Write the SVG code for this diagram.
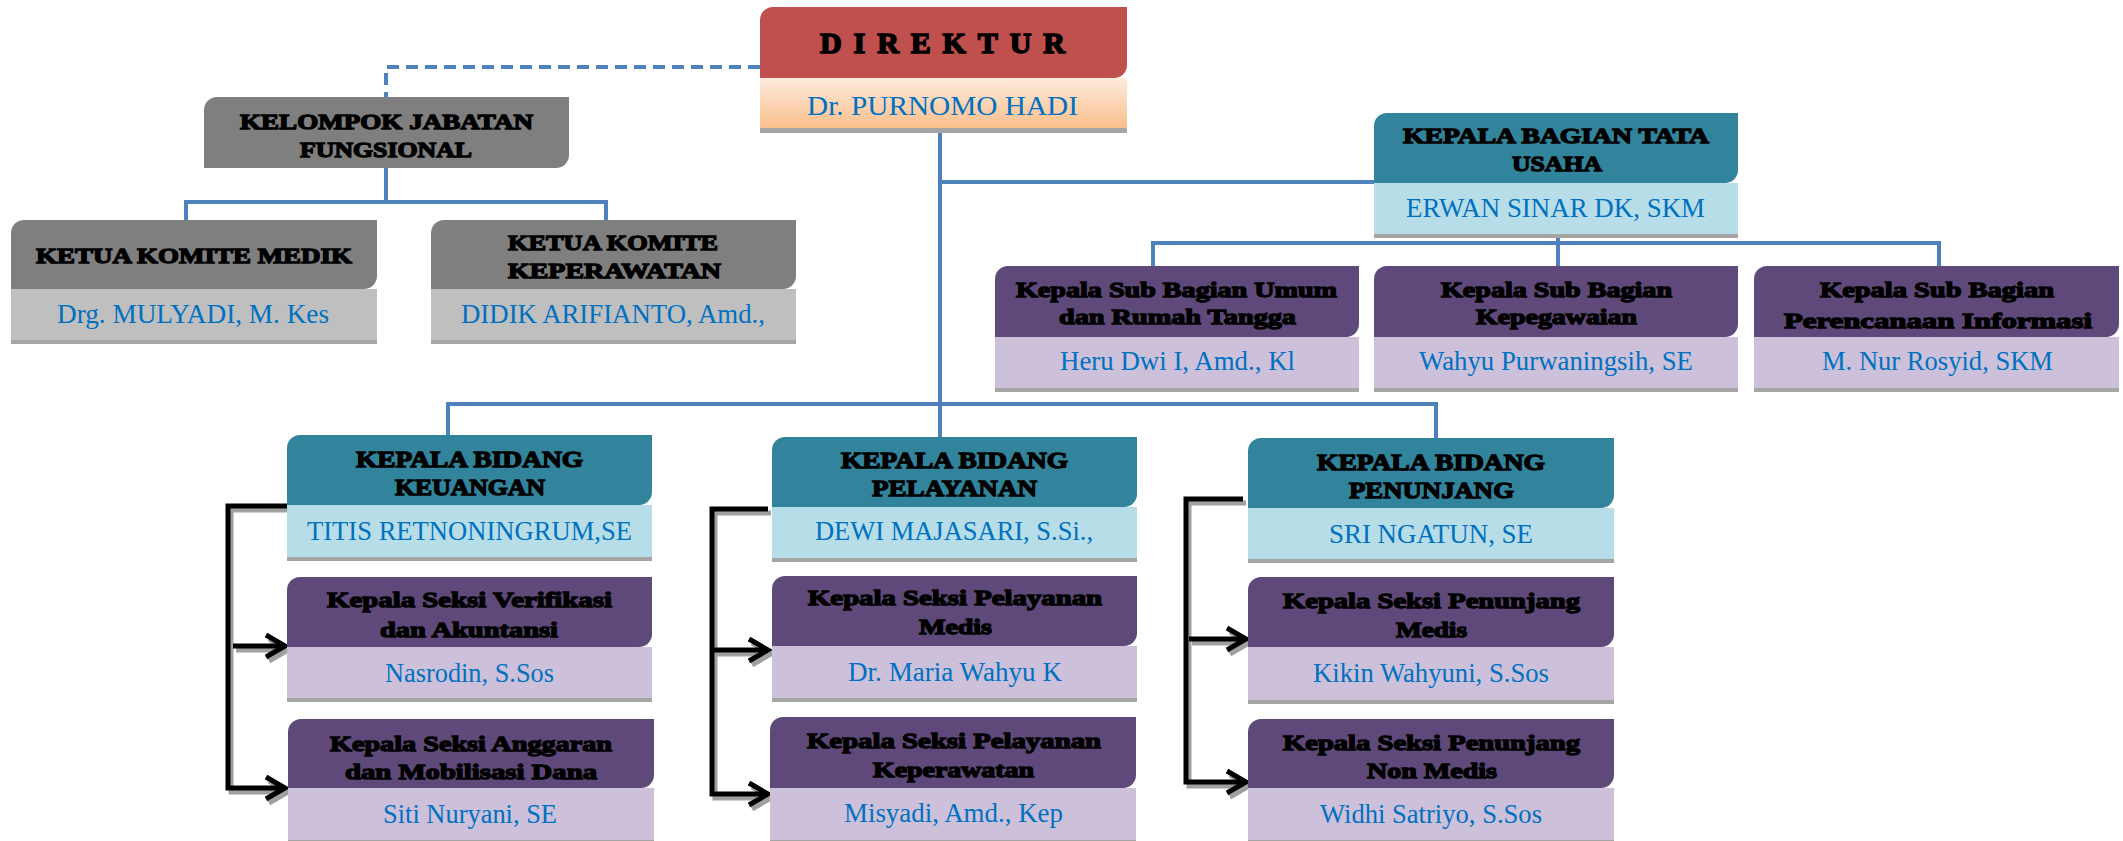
<svg xmlns="http://www.w3.org/2000/svg" width="2123" height="841" viewBox="0 0 2123 841">
<defs>
<linearGradient id="peach" x1="0" y1="0" x2="0" y2="1">
<stop offset="0" stop-color="#FDEBDD"/>
<stop offset="1" stop-color="#FABF8C"/>
</linearGradient>
</defs>
<style>
.t{font-family:"Liberation Serif",serif;font-weight:bold;fill:#000;stroke:#000;stroke-width:1.3px;font-size:22px}
.h{font-size:24px}
.d{font-size:30px;stroke-width:1.6px}
.n{font-family:"Liberation Serif",serif;fill:#0070C0;font-size:27px}
.p{font-size:28px}
.red{fill:#C0504D}.teal{fill:#31849B}.purp{fill:#5F497A}.gray{fill:#7F7F7F}
.lb{fill:#B7DEE8}.lp{fill:#CCC0DA}.lg{fill:#BFBFBF}.sh{fill:#A5A5A5}
.bl{fill:none;stroke:#4F81BD;stroke-width:4}
.bk{fill:none;stroke:#000;stroke-width:5}
.bs{fill:none;stroke:#A0A0A0;stroke-width:5}
</style>
<rect width="2123" height="841" fill="#fff"/>

<g id="connectors">
<path class="bl" d="M760,67 H386 V97" stroke-dasharray="12,7"/>
<path class="bl" d="M386,168 V202 M186,220 V202 H606 V220"/>
<path class="bl" d="M940,133 V437 M940,182 H1374"/>
<path class="bl" d="M448,435 V404 H1436 V438"/>
<path class="bl" d="M1558,234 V266 M1153,266 V243 H1939 V266"/>
<g transform="translate(3,4)">
<path class="bs" d="M287,506 H228 V788 H284 M233,646 H284 M768,509 H712 V794 H768 M714,650 H768 M1243,499 H1186 V782 H1246 M1189,639 H1246"/>
<path class="bs" d="M266,777 L285,788 L266,799 M266,635 L285,646 L266,657 M749,783 L768,794 L749,805 M749,639 L768,650 L749,661 M1227,771 L1246,782 L1227,793 M1227,628 L1246,639 L1227,650"/>
</g>
<path class="bk" d="M287,506 H228 V788 H284 M233,646 H284 M768,509 H712 V794 H768 M714,650 H768 M1243,499 H1186 V782 H1246 M1189,639 H1246"/>
<path class="bk" d="M266,777 L285,788 L266,799 M266,635 L285,646 L266,657 M749,783 L768,794 L749,805 M749,639 L768,650 L749,661 M1227,771 L1246,782 L1227,793 M1227,628 L1246,639 L1227,650"/>
</g>

<g id="direktur">
<path class="red" d="M773,7 H1127 V65 A13,13 0 0 1 1114,78 H760 V20 A13,13 0 0 1 773,7 Z"/>
<rect x="760" y="78" width="367" height="50" fill="url(#peach)"/>
<rect class="sh" x="760" y="128" width="367" height="5"/>
<text class="t d" x="820" y="53" textLength="245">DIREKTUR</text>
<text class="n p" x="807" y="115" textLength="271" lengthAdjust="spacingAndGlyphs">Dr. PURNOMO HADI</text>
</g>

<g id="kelompok">
<path class="gray" d="M217,97 H569 V155 A13,13 0 0 1 556,168 H204 V110 A13,13 0 0 1 217,97 Z"/>
<text class="t" x="240" y="129" textLength="293" lengthAdjust="spacingAndGlyphs">KELOMPOK JABATAN</text>
<text class="t" x="300" y="157" textLength="172" lengthAdjust="spacingAndGlyphs">FUNGSIONAL</text>
</g>

<g id="komite-medik">
<path class="gray" d="M24,220 H377 V276 A13,13 0 0 1 364,289 H11 V233 A13,13 0 0 1 24,220 Z"/>
<rect class="lg" x="11" y="289" width="366" height="51"/>
<rect class="sh" x="11" y="340" width="366" height="4"/>
<text class="t" x="36" y="263" textLength="316" lengthAdjust="spacingAndGlyphs">KETUA KOMITE MEDIK</text>
<text class="n" x="57" y="323" textLength="272" lengthAdjust="spacingAndGlyphs">Drg. MULYADI, M. Kes</text>
</g>

<g id="komite-keperawatan">
<path class="gray" d="M444,220 H796 V276 A13,13 0 0 1 783,289 H431 V233 A13,13 0 0 1 444,220 Z"/>
<rect class="lg" x="431" y="289" width="365" height="51"/>
<rect class="sh" x="431" y="340" width="365" height="4"/>
<text class="t" x="508" y="250" textLength="210" lengthAdjust="spacingAndGlyphs">KETUA KOMITE</text>
<text class="t" x="508" y="278" textLength="213" lengthAdjust="spacingAndGlyphs">KEPERAWATAN</text>
<text class="n" x="461" y="323" textLength="304" lengthAdjust="spacingAndGlyphs">DIDIK ARIFIANTO, Amd.,</text>
</g>

<g id="tata-usaha">
<path class="teal" d="M1387,113 H1738 V170 A13,13 0 0 1 1725,183 H1374 V126 A13,13 0 0 1 1387,113 Z"/>
<rect class="lb" x="1374" y="183" width="364" height="51"/>
<rect class="sh" x="1374" y="234" width="364" height="4"/>
<text class="t" x="1403" y="143" textLength="306" lengthAdjust="spacingAndGlyphs">KEPALA BAGIAN TATA</text>
<text class="t" x="1512" y="171" textLength="90" lengthAdjust="spacingAndGlyphs">USAHA</text>
<text class="n" x="1406" y="217" textLength="299" lengthAdjust="spacingAndGlyphs">ERWAN SINAR DK, SKM</text>
</g>

<g id="subbag-umum">
<path class="purp" d="M1008,266 H1359 V324 A13,13 0 0 1 1346,337 H995 V279 A13,13 0 0 1 1008,266 Z"/>
<text class="t" x="1016" y="297" textLength="321" lengthAdjust="spacingAndGlyphs">Kepala Sub Bagian Umum</text>
<text class="t" x="1059" y="324" textLength="237" lengthAdjust="spacingAndGlyphs">dan Rumah Tangga</text>
<rect class="lp" x="995" y="337" width="364" height="51"/>
<rect class="sh" x="995" y="388" width="364" height="4"/>
<text class="n" x="1060" y="370" textLength="235" lengthAdjust="spacingAndGlyphs">Heru Dwi I, Amd., Kl</text>
</g>

<g id="subbag-kepegawaian">
<path class="purp" d="M1387,266 H1738 V324 A13,13 0 0 1 1725,337 H1374 V279 A13,13 0 0 1 1387,266 Z"/>
<text class="t" x="1441" y="297" textLength="231" lengthAdjust="spacingAndGlyphs">Kepala Sub Bagian</text>
<text class="t" x="1476" y="324" textLength="161" lengthAdjust="spacingAndGlyphs">Kepegawaian</text>
<rect class="lp" x="1374" y="337" width="364" height="51"/>
<rect class="sh" x="1374" y="388" width="364" height="4"/>
<text class="n" x="1419" y="370" textLength="274" lengthAdjust="spacingAndGlyphs">Wahyu Purwaningsih, SE</text>
</g>

<g id="subbag-perencanaan">
<path class="purp" d="M1767,266 H2119 V324 A13,13 0 0 1 2106,337 H1754 V279 A13,13 0 0 1 1767,266 Z"/>
<text class="t" x="1820" y="297" textLength="234" lengthAdjust="spacingAndGlyphs">Kepala Sub Bagian</text>
<text class="t" x="1784" y="328" textLength="308" lengthAdjust="spacingAndGlyphs">Perencanaan  Informasi</text>
<rect class="lp" x="1754" y="337" width="365" height="51"/>
<rect class="sh" x="1754" y="388" width="365" height="4"/>
<text class="n" x="1822" y="370" textLength="231" lengthAdjust="spacingAndGlyphs">M. Nur Rosyid, SKM</text>
</g>

<g id="bidang-keuangan">
<path class="teal" d="M300,435 H652 V492 A13,13 0 0 1 639,505 H287 V448 A13,13 0 0 1 300,435 Z"/>
<rect class="lb" x="287" y="505" width="365" height="52"/>
<rect class="sh" x="287" y="557" width="365" height="4"/>
<text class="t h" x="356" y="467" textLength="227" lengthAdjust="spacingAndGlyphs">KEPALA BIDANG</text>
<text class="t h" x="395" y="495" textLength="150" lengthAdjust="spacingAndGlyphs">KEUANGAN</text>
<text class="n" x="307" y="540" textLength="325" lengthAdjust="spacingAndGlyphs">TITIS RETNONINGRUM,SE</text>
</g>

<g id="seksi-verifikasi">
<path class="purp" d="M300,577 H652 V634 A13,13 0 0 1 639,647 H287 V590 A13,13 0 0 1 300,577 Z"/>
<rect class="lp" x="287" y="647" width="365" height="51"/>
<rect class="sh" x="287" y="698" width="365" height="4"/>
<text class="t" x="327" y="607" textLength="285" lengthAdjust="spacingAndGlyphs">Kepala Seksi Verifikasi</text>
<text class="t" x="380" y="637" textLength="178" lengthAdjust="spacingAndGlyphs">dan Akuntansi</text>
<text class="n" x="385" y="682" textLength="169" lengthAdjust="spacingAndGlyphs">Nasrodin, S.Sos</text>
</g>

<g id="seksi-anggaran">
<path class="purp" d="M301,719 H654 V775 A13,13 0 0 1 641,788 H288 V732 A13,13 0 0 1 301,719 Z"/>
<text class="t" x="330" y="751" textLength="282" lengthAdjust="spacingAndGlyphs">Kepala Seksi Anggaran</text>
<text class="t" x="345" y="779" textLength="252" lengthAdjust="spacingAndGlyphs">dan Mobilisasi Dana</text>
<rect class="lp" x="288" y="788" width="366" height="52"/>
<rect class="sh" x="288" y="840" width="366" height="4"/>
<text class="n" x="383" y="823" textLength="174" lengthAdjust="spacingAndGlyphs">Siti Nuryani, SE</text>
</g>

<g id="bidang-pelayanan">
<path class="teal" d="M785,437 H1137 V494 A13,13 0 0 1 1124,507 H772 V450 A13,13 0 0 1 785,437 Z"/>
<rect class="lb" x="772" y="507" width="365" height="51"/>
<rect class="sh" x="772" y="558" width="365" height="4"/>
<text class="t h" x="841" y="468" textLength="227" lengthAdjust="spacingAndGlyphs">KEPALA BIDANG</text>
<text class="t h" x="872" y="496" textLength="165" lengthAdjust="spacingAndGlyphs">PELAYANAN</text>
<text class="n" x="815" y="540" textLength="278" lengthAdjust="spacingAndGlyphs">DEWI MAJASARI, S.Si.,</text>
</g>

<g id="seksi-pelayanan-medis">
<path class="purp" d="M785,576 H1137 V633 A13,13 0 0 1 1124,646 H772 V589 A13,13 0 0 1 785,576 Z"/>
<rect class="lp" x="772" y="646" width="365" height="52"/>
<rect class="sh" x="772" y="698" width="365" height="4"/>
<text class="t" x="808" y="605" textLength="294" lengthAdjust="spacingAndGlyphs">Kepala Seksi Pelayanan</text>
<text class="t" x="919" y="634" textLength="73" lengthAdjust="spacingAndGlyphs">Medis</text>
<text class="n" x="848" y="681" textLength="214" lengthAdjust="spacingAndGlyphs">Dr. Maria Wahyu K</text>
</g>

<g id="seksi-pelayanan-keperawatan">
<path class="purp" d="M783,717 H1136 V775 A13,13 0 0 1 1123,788 H770 V730 A13,13 0 0 1 783,717 Z"/>
<text class="t" x="807" y="748" textLength="294" lengthAdjust="spacingAndGlyphs">Kepala Seksi Pelayanan</text>
<text class="t" x="873" y="777" textLength="161" lengthAdjust="spacingAndGlyphs">Keperawatan</text>
<rect class="lp" x="770" y="788" width="366" height="52"/>
<rect class="sh" x="770" y="840" width="366" height="4"/>
<text class="n" x="844" y="822" textLength="219" lengthAdjust="spacingAndGlyphs">Misyadi, Amd., Kep</text>
</g>

<g id="bidang-penunjang">
<path class="teal" d="M1261,438 H1614 V495 A13,13 0 0 1 1601,508 H1248 V451 A13,13 0 0 1 1261,438 Z"/>
<rect class="lb" x="1248" y="508" width="366" height="51"/>
<rect class="sh" x="1248" y="559" width="366" height="4"/>
<text class="t h" x="1317" y="470" textLength="228" lengthAdjust="spacingAndGlyphs">KEPALA BIDANG</text>
<text class="t h" x="1349" y="498" textLength="165" lengthAdjust="spacingAndGlyphs">PENUNJANG</text>
<text class="n" x="1329" y="543" textLength="204" lengthAdjust="spacingAndGlyphs">SRI NGATUN, SE</text>
</g>

<g id="seksi-penunjang-medis">
<path class="purp" d="M1261,577 H1614 V634 A13,13 0 0 1 1601,647 H1248 V590 A13,13 0 0 1 1261,577 Z"/>
<rect class="lp" x="1248" y="647" width="366" height="53"/>
<rect class="sh" x="1248" y="700" width="366" height="4"/>
<text class="t" x="1283" y="608" textLength="297" lengthAdjust="spacingAndGlyphs">Kepala Seksi Penunjang</text>
<text class="t" x="1396" y="637" textLength="71" lengthAdjust="spacingAndGlyphs">Medis</text>
<text class="n" x="1313" y="682" textLength="236" lengthAdjust="spacingAndGlyphs">Kikin Wahyuni, S.Sos</text>
</g>

<g id="seksi-penunjang-nonmedis">
<path class="purp" d="M1261,719 H1614 V775 A13,13 0 0 1 1601,788 H1248 V732 A13,13 0 0 1 1261,719 Z"/>
<text class="t" x="1283" y="750" textLength="297" lengthAdjust="spacingAndGlyphs">Kepala Seksi Penunjang</text>
<text class="t" x="1367" y="778" textLength="130" lengthAdjust="spacingAndGlyphs">Non Medis</text>
<rect class="lp" x="1248" y="788" width="366" height="52"/>
<rect class="sh" x="1248" y="840" width="366" height="4"/>
<text class="n" x="1320" y="823" textLength="222" lengthAdjust="spacingAndGlyphs">Widhi Satriyo, S.Sos</text>
</g>
</svg>
